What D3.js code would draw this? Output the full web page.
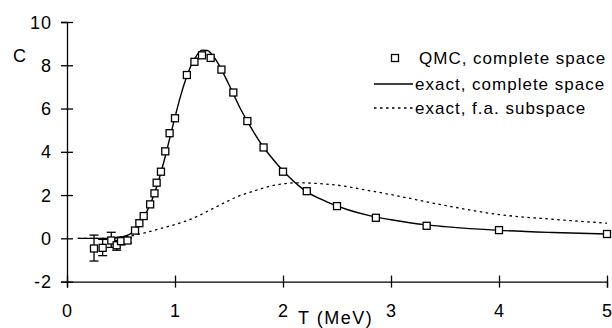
<!DOCTYPE html>
<html>
<head>
<meta charset="utf-8">
<script src="https://cdn.jsdelivr.net/npm/d3@7"></script>
<style>
  body { margin: 0; background: #fff; }
  svg text { font-family: Arial, "Liberation Sans", sans-serif; fill: #000; }
  .axis path, .axis line { stroke: #000; stroke-width: 1.3; }
</style>
</head>
<body>
<div id="chart"></div>
<script>
// -----------------------------------------------------------------------------
// data
// -----------------------------------------------------------------------------

// QMC, complete space (squares)
var qmcT = [0.25, 0.33, 0.41, 0.46, 0.5, 0.56, 0.63, 0.67, 0.71, 0.77, 0.81, 0.83,
            0.87, 0.91, 0.95, 1.0, 1.11, 1.18, 1.25, 1.33, 1.43, 1.54, 1.67, 1.82,
            2.0, 2.22, 2.5, 2.86, 3.33, 4.0, 5.0];
var qmcC = [-0.47, -0.44, -0.1, -0.32, -0.13, -0.1, 0.36, 0.7, 1.03, 1.57, 2.08, 2.57,
            3.08, 4.02, 4.86, 5.55, 7.55, 8.16, 8.46, 8.34, 7.8, 6.74, 5.42, 4.2,
            3.08, 2.18, 1.49, 0.95, 0.58, 0.38, 0.2];
// error bars, only the low-T points carry visible ones
var errT  = [0.25, 0.33, 0.41, 0.46, 0.5, 0.56];
var errLo = [-1.05, -0.8, -0.42, -0.55, -0.3, -0.2];
var errHi = [0.15, -0.05, 0.28, -0.1, 0.05, 0.02];

// exact, complete space (solid)
var exactT = [0.1, 0.3, 0.4, 0.5, 0.55, 0.6, 0.65, 0.7, 0.75, 0.8, 0.85, 0.9, 0.95,
              1.0, 1.05, 1.1, 1.15, 1.2, 1.25, 1.3, 1.35, 1.4, 1.5, 1.6, 1.7, 1.8,
              1.9, 2.0, 2.2, 2.4, 2.6, 2.8, 3.0, 3.33, 3.5, 4.0, 4.5, 5.0];
var exactC = [0, 0, 0.01, 0.06, 0.12, 0.25, 0.5, 0.88, 1.35, 1.95, 2.7, 3.6, 4.6,
              5.6, 6.55, 7.35, 8.0, 8.45, 8.7, 8.68, 8.45, 8.08, 7.1, 6.05, 5.15, 4.35,
              3.7, 3.12, 2.22, 1.7, 1.32, 1.05, 0.86, 0.62, 0.54, 0.37, 0.27, 0.2];

// exact, f.a. subspace (dotted)
var subT = [0.1, 0.3, 0.5, 0.6, 0.7, 0.8, 0.9, 1.0, 1.1, 1.2, 1.3, 1.4, 1.5, 1.6,
            1.7, 1.8, 1.9, 2.0, 2.1, 2.2, 2.3, 2.5, 2.75, 3.0, 3.5, 4.0, 4.5, 5.0];
var subC = [0, 0.0, 0.05, 0.12, 0.23, 0.36, 0.5, 0.64, 0.8, 1.0, 1.25, 1.5, 1.75, 1.97,
            2.14, 2.3, 2.43, 2.52, 2.56, 2.56, 2.54, 2.46, 2.25, 2.02, 1.52, 1.1, 0.88, 0.7];

var xTicks = [0, 1, 2, 3, 4, 5];
var yTicks = [-2, 0, 2, 4, 6, 8, 10];
var legendLabels = ["QMC, complete space", "exact, complete space", "exact, f.a. subspace"];

// -----------------------------------------------------------------------------
// drawing
// -----------------------------------------------------------------------------

var W = 612, H = 328;

var svg = d3.select("#chart").append("svg")
    .attr("width", W)
    .attr("height", H);

var xScale = d3.scaleLinear().domain([0, 5]).range([67, 607]);
var yScale = d3.scaleLinear().domain([-2, 10]).range([281.6, 22]);

// y axis
var yAxis = svg.append("g")
    .attr("class", "axis")
    .attr("transform", "translate(" + xScale(0) + ",0)")
    .call(d3.axisLeft(yScale).tickValues(yTicks).tickSizeOuter(0).tickSize(6).tickFormat(""));
yAxis.selectAll(".tick line").attr("x1", -6).attr("x2", 6);

// x axis
var xAxis = svg.append("g")
    .attr("class", "axis")
    .attr("transform", "translate(0," + yScale(-2) + ")")
    .call(d3.axisBottom(xScale).tickValues(xTicks).tickSizeOuter(0).tickSize(6).tickFormat(""));
xAxis.selectAll(".tick line").attr("y1", -6).attr("y2", 6);

// tick labels
svg.selectAll(".ylab")
    .data(yTicks)
  .enter().append("text")
    .attr("class", "ylab")
    .attr("x", 52)
    .attr("y", function(d) { return yScale(d) + 6.5; })
    .attr("text-anchor", "end")
    .style("font-size", "18px")
    .style("letter-spacing", "1px")
    .text(function(d) { return d; });

svg.selectAll(".xlab")
    .data(xTicks)
  .enter().append("text")
    .attr("class", "xlab")
    .attr("x", function(d) { return xScale(d) + 0.5; })
    .attr("y", 317)
    .attr("text-anchor", "middle")
    .style("font-size", "18px")
    .style("letter-spacing", "1px")
    .text(function(d) { return d; });

svg.append("text")
    .attr("x", 13)
    .attr("y", 62)
    .style("font-size", "18px")
    .style("letter-spacing", "1px")
    .text("C");

svg.append("text")
    .attr("x", 298)
    .attr("y", 324)
    .style("font-size", "18px")
    .style("letter-spacing", "1.5px")
    .text("T (MeV)");

// curves
var line = d3.line()
    .x(function(d) { return xScale(d[0]); })
    .y(function(d) { return yScale(d[1]); })
    .curve(d3.curveMonotoneX);

svg.append("path")
    .datum(d3.zip(subT, subC))
    .attr("fill", "none")
    .attr("stroke", "#000")
    .attr("stroke-width", 1.3)
    .attr("stroke-dasharray", "2.5,3.5")
    .attr("d", line);

svg.append("path")
    .datum(d3.zip(exactT, exactC))
    .attr("fill", "none")
    .attr("stroke", "#000")
    .attr("stroke-width", 1.4)
    .attr("d", line);

// error bars
var errs = d3.zip(errT, errLo, errHi);
var eb = svg.selectAll(".err")
    .data(errs)
  .enter().append("g")
    .attr("class", "err")
    .attr("stroke", "#000")
    .attr("stroke-width", 1.3);
eb.append("line")
    .attr("x1", function(d) { return xScale(d[0]); })
    .attr("x2", function(d) { return xScale(d[0]); })
    .attr("y1", function(d) { return yScale(d[1]); })
    .attr("y2", function(d) { return yScale(d[2]); });
eb.append("line")
    .attr("x1", function(d) { return xScale(d[0]) - 4.5; })
    .attr("x2", function(d) { return xScale(d[0]) + 4.5; })
    .attr("y1", function(d) { return yScale(d[1]); })
    .attr("y2", function(d) { return yScale(d[1]); });
eb.append("line")
    .attr("x1", function(d) { return xScale(d[0]) - 4.5; })
    .attr("x2", function(d) { return xScale(d[0]) + 4.5; })
    .attr("y1", function(d) { return yScale(d[2]); })
    .attr("y2", function(d) { return yScale(d[2]); });

// squares
var sq = 7;
svg.selectAll(".qmc")
    .data(d3.zip(qmcT, qmcC))
  .enter().append("rect")
    .attr("class", "qmc")
    .attr("x", function(d) { return xScale(d[0]) - sq / 2; })
    .attr("y", function(d) { return yScale(d[1]) - sq / 2; })
    .attr("width", sq)
    .attr("height", sq)
    .attr("fill", "#fff")
    .attr("stroke", "#000")
    .attr("stroke-width", 1.3);

// legend
var legY = [58, 84, 108];
var legend = svg.append("g");

legend.append("rect")
    .attr("x", 395 - sq / 2)
    .attr("y", legY[0] - sq / 2)
    .attr("width", sq)
    .attr("height", sq)
    .attr("fill", "#fff")
    .attr("stroke", "#000")
    .attr("stroke-width", 1.3);

legend.append("line")
    .attr("x1", 374).attr("x2", 413)
    .attr("y1", legY[1]).attr("y2", legY[1])
    .attr("stroke", "#000")
    .attr("stroke-width", 1.3);

legend.append("line")
    .attr("x1", 374).attr("x2", 413)
    .attr("y1", legY[2]).attr("y2", legY[2])
    .attr("stroke", "#000")
    .attr("stroke-width", 1.3)
    .attr("stroke-dasharray", "2.5,3.5");

legend.selectAll("text")
    .data(legendLabels)
  .enter().append("text")
    .attr("x", function(d, i) { return i == 0 ? 419 : 415; })
    .attr("y", function(d, i) { return legY[i] + 6; })
    .style("font-size", "17px")
    .style("letter-spacing", "1px")
    .text(function(d) { return d; });
</script>
</body>
</html>
